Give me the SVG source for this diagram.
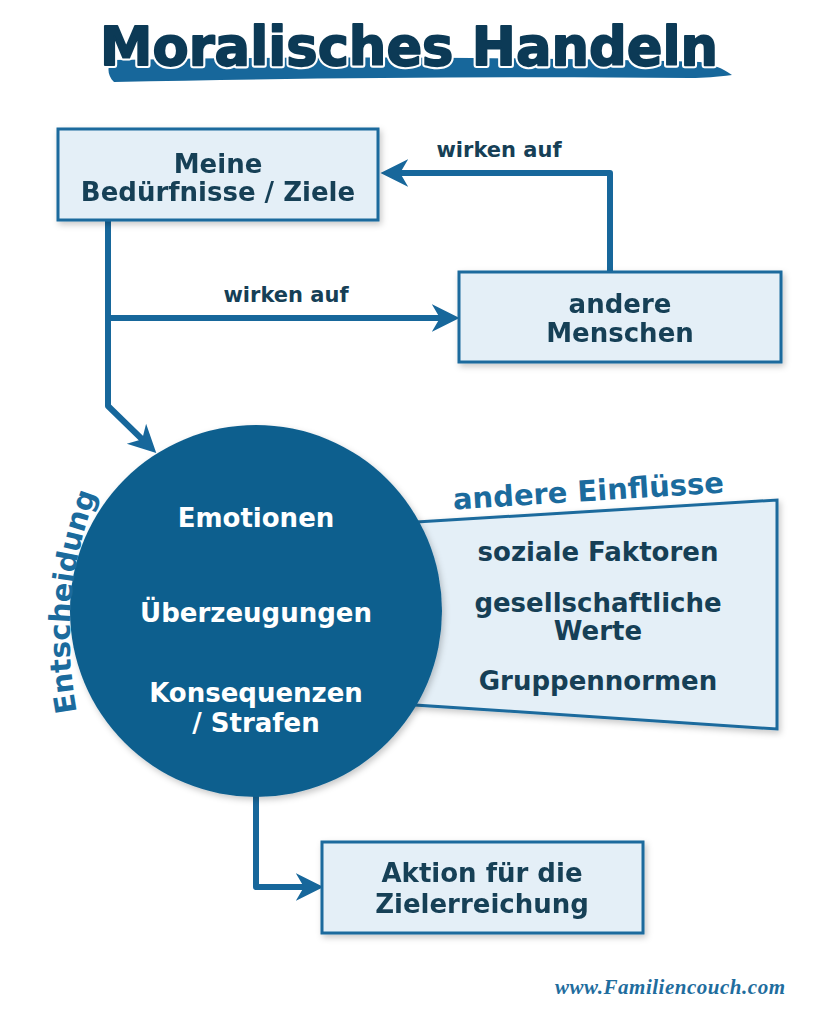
<svg xmlns="http://www.w3.org/2000/svg" width="819" height="1024" viewBox="0 0 819 1024">
<defs>
  <filter id="sh" x="-10%" y="-10%" width="125%" height="130%">
    <feDropShadow dx="2" dy="3" stdDeviation="3" flood-color="#000" flood-opacity="0.22"/>
  </filter>
  <marker id="ah" markerUnits="userSpaceOnUse" markerWidth="30" markerHeight="30" viewBox="0 -13 26 26" refX="14" refY="0" orient="auto">
    <path d="M0,-12 L24,0 L0,12 L7,0 Z" fill="#17679b"/>
  </marker>
  <style>
    .box { fill: #e4eff7; stroke: #1b6b9d; stroke-width: 3; }
    .bt { font-family: "DejaVu Sans", "Liberation Sans", sans-serif; font-weight: bold; font-size: 26px; fill: #163f56; text-anchor: middle; }
    .ct { font-family: "DejaVu Sans", "Liberation Sans", sans-serif; font-weight: bold; font-size: 26px; fill: #ffffff; text-anchor: middle; }
    .lbl { font-family: "DejaVu Sans", "Liberation Sans", sans-serif; font-weight: bold; font-size: 21px; fill: #163f56; text-anchor: middle; }
    .hd { font-family: "DejaVu Sans", "Liberation Sans", sans-serif; font-weight: bold; font-size: 29px; fill: #1b6b9d; }
    .ln { fill: none; stroke: #17679b; stroke-width: 6; stroke-linejoin: round; }
  </style>
</defs>
<rect width="819" height="1024" fill="#ffffff"/>

<g id="title">
  <path d="M112,60 C300,56 520,57 700,62 C712,64 722,68 732,75 C716,77 705,78 690,78 C500,76 300,78 114,82 C107,75 107,66 112,60 Z" fill="#17679b"/>
  <text x="100" y="65" textLength="618" lengthAdjust="spacingAndGlyphs" font-family="DejaVu Sans, Liberation Sans, sans-serif" font-weight="bold" font-size="54" fill="none" stroke="#ffffff" stroke-width="6" stroke-linejoin="round">Moralisches Handeln</text>
  <text x="100" y="65" textLength="618" lengthAdjust="spacingAndGlyphs" font-family="DejaVu Sans, Liberation Sans, sans-serif" font-weight="bold" font-size="54" fill="#0c3a56" stroke="#0c3a56" stroke-width="1.8" stroke-linejoin="round">Moralisches Handeln</text>
</g>

<g id="connectors">
  <path class="ln" d="M610,272 L610,173 L392,173" marker-end="url(#ah)"/>
  <path class="ln" d="M108,220 L108,406 L148,445" marker-end="url(#ah)"/>
  <path class="ln" d="M108,318 L448,318" marker-end="url(#ah)"/>
  <path class="ln" d="M256,790 L256,887 L312,887" marker-end="url(#ah)"/>
  <text class="lbl" x="499" y="157">wirken auf</text>
  <text class="lbl" x="286" y="302">wirken auf</text>
</g>

<g id="node-beduerfnisse" filter="url(#sh)">
  <rect class="box" x="58" y="129" width="320" height="91"/>
  <text class="bt" x="218" y="173">Meine</text>
  <text class="bt" x="218" y="201">Bedürfnisse / Ziele</text>
</g>

<g id="node-menschen" filter="url(#sh)">
  <rect class="box" x="459" y="272" width="322" height="90"/>
  <text class="bt" x="620" y="313">andere</text>
  <text class="bt" x="620" y="342">Menschen</text>
</g>

<g id="node-einfluesse">
  <polygon class="box" points="400,523 777,500 777,729 400,704" filter="url(#sh)"/>
  <text class="hd" x="589" y="501" text-anchor="middle" transform="rotate(-3.6 589 501)">andere Einflüsse</text>
  <text class="bt" x="598" y="561">soziale Faktoren</text>
  <text class="bt" x="598" y="612">gesellschaftliche</text>
  <text class="bt" x="598" y="640">Werte</text>
  <text class="bt" x="598" y="690">Gruppennormen</text>
</g>

<g id="node-entscheidung">
  <circle cx="256" cy="611" r="186" fill="#0f5f8e" filter="url(#sh)"/>
  <path id="arcE" d="M77,712 Q54,590 104,476" fill="none"/>
  <text class="hd" font-size="30"><textPath href="#arcE">Entscheidung</textPath></text>
  <text class="ct" x="256" y="527">Emotionen</text>
  <text class="ct" x="256" y="622">Überzeugungen</text>
  <text class="ct" x="256" y="702">Konsequenzen</text>
  <text class="ct" x="256" y="732">/ Strafen</text>
</g>

<g id="node-aktion" filter="url(#sh)">
  <rect class="box" x="322" y="842" width="321" height="91"/>
  <text class="bt" x="482" y="882">Aktion für die</text>
  <text class="bt" x="482" y="913">Zielerreichung</text>
</g>

<g id="footer">
  <text x="785" y="994" text-anchor="end" font-family="Liberation Serif, DejaVu Serif, serif" font-style="italic" font-weight="bold" font-size="21" fill="#1f6d9e" textLength="230">www.Familiencouch.com</text>
</g>
</svg>
